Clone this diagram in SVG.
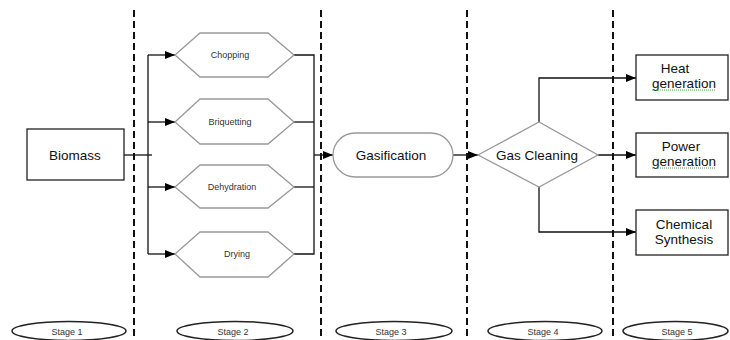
<svg xmlns="http://www.w3.org/2000/svg" width="730" height="340" viewBox="0 0 730 340">
<defs>
<marker id="arr" markerWidth="10" markerHeight="8" refX="10" refY="4" orient="auto" markerUnits="userSpaceOnUse">
<path d="M0,0 L10,4 L0,8 Z" fill="#000"/>
</marker>
<style>
.dash{stroke:#111;stroke-width:2;stroke-dasharray:7,4;fill:none}
.con{stroke:#111;stroke-width:1.3;fill:none}
.box{fill:#fff;stroke:#222;stroke-width:1.3}
.gray{fill:#fff;stroke:#999;stroke-width:1.3}
.ell{fill:#fff;stroke:#222;stroke-width:1.5}
.big{font-family:"Liberation Sans",Arial,sans-serif;font-size:13.5px;fill:#111;text-anchor:middle}
.small{font-family:"Liberation Sans",Arial,sans-serif;font-size:9px;fill:#333;text-anchor:middle}
.sq{stroke:#4a4;stroke-width:1;stroke-dasharray:1,1;fill:none}
</style>
</defs>
<rect width="730" height="340" fill="#fff"/>
<g id="dividers">
<line class="dash" x1="134" y1="10" x2="134" y2="340"/>
<line class="dash" x1="321" y1="10" x2="321" y2="340"/>
<line class="dash" x1="467" y1="10" x2="467" y2="340"/>
<line class="dash" x1="613" y1="10" x2="613" y2="340"/>
</g>
<g id="connectors">
<path class="con" d="M124,155 H152"/>
<path class="con" d="M148,55 V254"/>
<path class="con" d="M148,55 H175" marker-end="url(#arr)"/>
<path class="con" d="M148,122 H175" marker-end="url(#arr)"/>
<path class="con" d="M148,187 H175" marker-end="url(#arr)"/>
<path class="con" d="M148,254 H175" marker-end="url(#arr)"/>
<path class="con" d="M294,55 H314 V254 H294"/>
<path class="con" d="M294,122 H314"/>
<path class="con" d="M294,187 H314"/>
<path class="con" d="M314,155 H333" marker-end="url(#arr)"/>
<path class="con" d="M453,155 H478" marker-end="url(#arr)"/>
<path class="con" d="M539,122 V78 H636" marker-end="url(#arr)"/>
<path class="con" d="M598,155 H636" marker-end="url(#arr)"/>
<path class="con" d="M539,187 V232 H636" marker-end="url(#arr)"/>
</g>
<g id="biomass">
<rect class="box" x="27" y="129" width="97" height="51"/>
<text class="big" x="75" y="160">Biomass</text>
</g>
<g id="chopping">
<polygon class="gray" points="175,55 200,33 268,33 294,55 268,77 200,77"/>
<text class="small" x="230" y="58">Chopping</text>
</g>
<g id="briquetting">
<polygon class="gray" points="175,122 200,99 268,99 294,122 268,144 200,144"/>
<text class="small" x="230" y="125">Briquetting</text>
</g>
<g id="dehydration">
<polygon class="gray" points="175,187 200,165 268,165 294,187 268,208 200,208"/>
<text class="small" x="232" y="190">Dehydration</text>
</g>
<g id="drying">
<polygon class="gray" points="175,254 200,232 268,232 294,254 268,277 200,277"/>
<text class="small" x="237" y="257">Drying</text>
</g>
<g id="gasification">
<rect class="gray" x="333" y="133" width="120" height="44" rx="22" ry="22"/>
<text class="big" x="391" y="160">Gasification</text>
</g>
<g id="gascleaning">
<polygon class="gray" points="478,155 539,122 598,155 539,187"/>
<text class="big" x="537" y="160">Gas Cleaning</text>
</g>
<g id="heat">
<rect class="box" x="636" y="55" width="92" height="45"/>
<text class="big" x="675" y="73">Heat</text>
<text class="big" x="684" y="88">generation</text>
<line class="sq" x1="652" y1="90" x2="716" y2="90"/>
</g>
<g id="power">
<rect class="box" x="636" y="133" width="92" height="44"/>
<text class="big" x="681" y="151">Power</text>
<text class="big" x="684" y="166">generation</text>
<line class="sq" x1="652" y1="168" x2="716" y2="168"/>
</g>
<g id="chemical">
<rect class="box" x="636" y="210" width="92" height="45"/>
<text class="big" x="684" y="229">Chemical</text>
<text class="big" x="684" y="244">Synthesis</text>
</g>
<g id="stage1"><ellipse class="ell" cx="69" cy="331" rx="57" ry="9.5"/><text class="small" x="67" y="334.5">Stage 1</text></g>
<g id="stage2"><ellipse class="ell" cx="235" cy="331" rx="58" ry="9.5"/><text class="small" x="233" y="334.5">Stage 2</text></g>
<g id="stage3"><ellipse class="ell" cx="394" cy="331" rx="58" ry="9.5"/><text class="small" x="391" y="334.5">Stage 3</text></g>
<g id="stage4"><ellipse class="ell" cx="545" cy="331" rx="57" ry="9.5"/><text class="small" x="543" y="334.5">Stage 4</text></g>
<g id="stage5"><ellipse class="ell" cx="675.5" cy="331" rx="52.5" ry="9.5"/><text class="small" x="677" y="334.5">Stage 5</text></g>
</svg>
